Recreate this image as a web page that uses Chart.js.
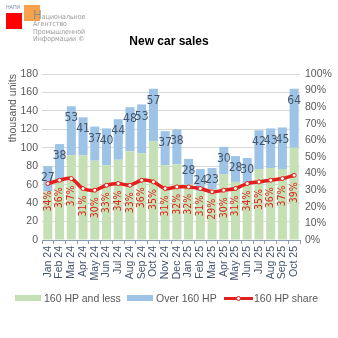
<!DOCTYPE html>
<html lang="en">
<head>
<meta charset="UTF-8">
<title>New car sales</title>
<style>
  body { margin: 0; background: #fff; }
  #wrap { position: relative; width: 338px; height: 338px; overflow: hidden; }
  #salesChart { position: absolute; left: 0; top: 0; }
  .logo-red { position: absolute; left: 6px; top: 13px; width: 16px; height: 16px; background: #ff0000; }
  .logo-orange { position: absolute; left: 24px; top: 5px; width: 16px; height: 16px; background: #f7a24a; }
  .logo-napi { position: absolute; left: 6px; top: 4px; font: 5px "Liberation Sans", sans-serif; color: #7a8aa8; }
  .logo-text { position: absolute; left: 33px; top: 10px; font: 7px/7.3px "Liberation Sans Narrow", "DejaVu Sans Condensed", sans-serif; color: #9a9a9a; }
  .logo-text b { font-weight: normal; font-size: 13px; line-height: 9px; color: #8c8c8c; }
  .legend { position: absolute; top: 292px; left: 0; width: 338px; height: 14px; font: 10.5px "Liberation Sans", sans-serif; color: #595959; }
  .legend span { position: absolute; top: 0; white-space: nowrap; }
  .box { position: absolute; }
</style>
</head>
<body>
<div id="wrap">
  <canvas id="salesChart" width="338" height="338"></canvas>
  <div class="logo-napi">НАПИ</div>
  <div class="logo-red"></div>
  <div class="logo-orange"></div>
  <div class="logo-text"><b>Н</b>ациональное<br>Агентство<br>Промышленной<br>Информации ©</div>
  <div class="legend">
    <div class="box" style="left:15px;top:3px;width:26px;height:6px;background:#c5e0b4"></div>
    <span style="left:44px">160 HP and less</span>
    <div class="box" style="left:127px;top:3px;width:26px;height:6px;background:#9dc3e6"></div>
    <span style="left:156px">Over 160 HP</span>
    <div class="box" style="left:224px;top:5px;width:29px;height:3px;background:#e3201b"></div>
    <div class="box" style="left:236px;top:4px;width:3px;height:3px;border:1px solid #e3201b;border-radius:50%;background:#fff"></div>
    <span style="left:254px">160 HP share</span>
  </div>
</div>
<script src="https://cdn.jsdelivr.net/npm/chart.js"></script>
<script>
  const months = ['Jan 24', 'Feb 24', 'Mar 24', 'Apr 24', 'May 24', 'Jun 24', 'Jul 24', 'Aug 24',
    'Sep 24', 'Oct 24', 'Nov 24', 'Dec 24', 'Jan 25', 'Feb 25', 'Mar 25', 'Apr 25', 'May 25',
    'Jun 25', 'Jul 25', 'Aug 25', 'Sep 25', 'Oct 25']
  // thousand units
  const hp160AndLess = [53, 66, 92, 92, 86, 81, 87, 96, 94, 107, 81, 82, 60, 53, 55, 71, 63, 59, 77, 78, 77, 100]
  const over160 = [27, 38, 53, 41, 37, 40, 44, 48, 53, 57, 37, 38, 28, 24, 23, 30, 28, 30, 42, 43, 45, 64]
  // share of over 160 HP, %
  const share160 = [34, 36, 37, 31, 30, 33, 34, 33, 36, 35, 31, 32, 32, 31, 29, 30, 31, 34, 35, 36, 37, 39]

  const green = '#c5e0b4', blue = '#9dc3e6', red = '#e3201b'
  const font = 'Liberation Sans'
  const narrow = '"Liberation Sans Narrow", "DejaVu Sans Condensed", sans-serif'

  // value labels: numbers on top of blue parts, rotated % under the share line
  const valueLabels = {
    id: 'valueLabels',
    afterDatasetsDraw(chart) {
      const ctx = chart.ctx
      ctx.save()
      const blueMeta = chart.getDatasetMeta(2)
      ctx.font = '12px ' + narrow
      ctx.fillStyle = '#44546a'
      ctx.textAlign = 'center'
      ctx.textBaseline = 'middle'
      blueMeta.data.forEach((el, i) => {
        ctx.fillText(over160[i], el.x, el.y + 12)
      })
      const lineMeta = chart.getDatasetMeta(0)
      ctx.font = '10.5px ' + narrow
      ctx.fillStyle = red
      ctx.textAlign = 'right'
      lineMeta.data.forEach((el, i) => {
        ctx.save()
        ctx.translate(el.x, el.y + 7)
        ctx.rotate(-Math.PI / 2)
        ctx.fillText(share160[i] + '%', 0, 0)
        ctx.restore()
      })
      ctx.restore()
    }
  }

  new Chart(document.getElementById('salesChart'), {
    type: 'bar',
    data: {
      labels: months,
      datasets: [
        {
          type: 'line',
          label: '160 HP share',
          data: share160.map(v => v / 100),
          yAxisID: 'y1',
          order: 0,
          borderColor: red,
          backgroundColor: red,
          borderWidth: 3.5,
          tension: 0.3,
          pointRadius: 2,
          pointBackgroundColor: '#fff',
          pointBorderColor: red,
          pointBorderWidth: 1
        },
        {
          label: '160 HP and less',
          data: hp160AndLess,
          backgroundColor: green,
          yAxisID: 'y',
          stack: 'cars',
          order: 1
        },
        {
          label: 'Over 160 HP',
          data: over160,
          backgroundColor: blue,
          yAxisID: 'y',
          stack: 'cars',
          order: 1
        }
      ]
    },
    options: {
      responsive: false,
      animation: false,
      layout: { padding: { top: 30, left: 0, right: 0, bottom: 48 } },
      datasets: { bar: { barPercentage: 0.77, categoryPercentage: 1 } },
      plugins: {
        legend: { display: false },
        tooltip: { enabled: false },
        title: {
          display: true,
          text: 'New car sales',
          color: '#000',
          font: { family: font, size: 12, weight: 'bold' },
          padding: { top: 4, bottom: 25.6 }
        }
      },
      scales: {
        x: {
          stacked: true,
          grid: { display: true, drawOnChartArea: false, drawTicks: true, tickLength: 4, color: '#8c9bb5' },
          border: { color: '#8c9bb5' },
          ticks: { autoSkip: false, maxRotation: 90, minRotation: 90, padding: 2, color: '#44546a', font: { family: font, size: 10.5 } },
          afterFit(scale) { scale.height = 50 }
        },
        y: {
          stacked: true,
          min: 0,
          max: 180,
          ticks: { stepSize: 20, padding: 4, color: '#595959', font: { family: font, size: 10.5 } },
          grid: { color: '#d9d9d9', drawTicks: false },
          border: { display: false },
          title: { display: true, text: 'thousand units', align: 'end', color: '#595959', font: { family: font, size: 10.5 }, padding: { top: 7, bottom: 0 } },
          afterFit(scale) { scale.width = 42 }
        },
        y1: {
          position: 'right',
          min: 0,
          max: 1,
          ticks: { stepSize: 0.1, padding: 5, color: '#595959', font: { family: font, size: 10.5 }, callback: v => Math.round(v * 100) + '%' },
          grid: { display: false, drawTicks: false },
          border: { display: false },
          afterFit(scale) { scale.width = 38 }
        }
      }
    },
    plugins: [valueLabels]
  })
</script>
</body>
</html>
